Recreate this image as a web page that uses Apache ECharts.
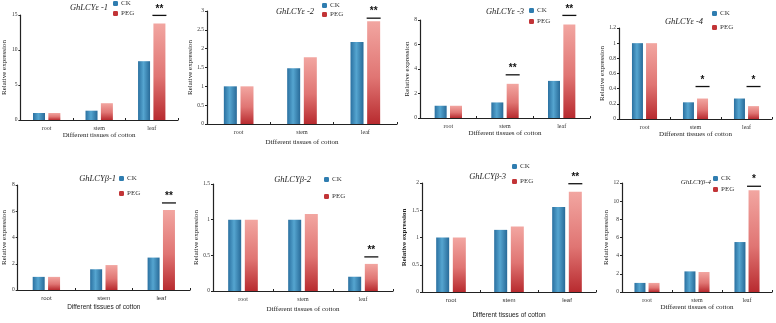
<!DOCTYPE html>
<html>
<head>
<meta charset="utf-8">
<script src="https://cdn.jsdelivr.net/npm/echarts@6/dist/echarts.min.js"></script>
<style>html,body{margin:0;padding:0;background:#fff}#c{width:776px;height:323px}</style>
</head>
<body>
<div id="c"></div>
<script>
const categories = ['root', 'stem', 'leaf'];
const titles = ['GhLCYε -1', 'GhLCYε -2', 'GhLCYε -3', 'GhLCYε -4', 'GhLCYβ-1', 'GhLCYβ-2', 'GhLCYβ-3', 'GhLCYβ-4'];
const ck1 = [1, 1.33, 8.4];   const peg1 = [1, 2.4, 13.8];  const sig1 = ['', '', '**'];
const ck2 = [1, 1.48, 2.18];  const peg2 = [1, 1.77, 2.73]; const sig2 = ['', '', '**'];
const ck3 = [1, 1.27, 3.03];  const peg3 = [1, 2.79, 7.64]; const sig3 = ['', '**', '**'];
const ck4 = [1, 0.22, 0.27];  const peg4 = [1, 0.27, 0.17]; const sig4 = ['', '*', '*'];
const ck5 = [1, 1.58, 2.47];  const peg5 = [1, 1.9, 6.1];   const sig5 = ['', '', '**'];
const ck6 = [1, 1, 0.2];      const peg6 = [1, 1.08, 0.38]; const sig6 = ['', '', '**'];
const ck7 = [1, 1.14, 1.56];  const peg7 = [1, 1.2, 1.84];  const sig7 = ['', '', '**'];
const ck8 = [1, 2.27, 5.5];   const peg8 = [1, 2.2, 11.2];  const sig8 = ['', '', '*'];
const yMax = [15, 3, 8, 1.2, 8, 1.5, 2, 12];
const yStep = [5, 0.5, 2, 0.2, 2, 0.5, 0.5, 2];

const CK = [ck1, ck2, ck3, ck4, ck5, ck6, ck7, ck8];
const PEG = [peg1, peg2, peg3, peg4, peg5, peg6, peg7, peg8];
const SIG = [sig1, sig2, sig3, sig4, sig5, sig6, sig7, sig8];

// layout (styles/positions only); t = [right edge distance, top, fontSize]
const L = [
  {g:[15,15,163,105],   bw:12, t:[668,3,8.5],   lg:[113,0,3],   xg:12, yg:7,  so:8,  xf:'serif'},
  {g:[207,11,190,113],  bw:13, t:[462,7,8.5],   lg:[322,2,2],   xg:15, yg:12, so:3,  xf:'serif'},
  {g:[420,20,170,98],   bw:12, t:[252,7,8.5],   lg:[529,7,4],   xg:10, yg:5,  so:9,  xf:'serif'},
  {g:[619,28,153,91],   bw:11, t:[73,17,8.5],   lg:[712,10,7],  xg:9,  yg:7,  so:12, xf:'serif'},
  {g:[13,185,177,105],  bw:12, t:[660,174,8.5], lg:[119,175,8], xg:14, yg:6,  so:7,  xf:'sans-serif'},
  {g:[213,184,180,107], bw:13, t:[465,175,8.5], lg:[324,176,10],xg:15, yg:10, so:7,  xf:'serif'},
  {g:[422,183,174,109], bw:13, t:[270,172,8.5], lg:[512,163,8], xg:20, yg:14, so:8,  xf:'sans-serif'},
  {g:[622,183,150,109], bw:11, t:[65,179,7],    lg:[713,175,4], xg:10, yg:9,  so:4,  xf:'serif'}
];

const ckColor = new echarts.graphic.LinearGradient(0, 0, 1, 0, [
  {offset: 0, color: '#2a70a0'}, {offset: 0.45, color: '#55a5d0'}, {offset: 1, color: '#286a98'}]);
const pegColor = new echarts.graphic.LinearGradient(0, 0, 0, 1, [
  {offset: 0, color: '#f2a6a1'}, {offset: 0.55, color: '#e07573'}, {offset: 1, color: '#b82b2f'}]);

const grid = [], xAxis = [], yAxis = [], series = [], title = [], legend = [];
L.forEach((p, k) => {
  grid.push({left: p.g[0], top: p.g[1], width: p.g[2], height: p.g[3], containLabel: false});
  title.push({text: titles[k], right: p.t[0], top: p.t[1], padding: 0,
    textStyle: {fontFamily: 'Liberation Serif', fontStyle: 'italic', fontWeight: 'normal', fontSize: p.t[2], color: '#222'}});
  legend.push({left: p.lg[0], top: p.lg[1], padding: 0, orient: 'vertical', itemWidth: 5, itemHeight: 5, itemGap: p.lg[2],
    textStyle: {fontFamily: 'Liberation Serif', fontSize: 7, color: '#333', padding: [0, 0, 0, -2]},
    data: [{name: 'CK', itemStyle: {color: '#2f7db0'}}, {name: 'PEG', itemStyle: {color: '#c23437'}}]});
  const xfam = p.xf === 'serif' ? 'Liberation Serif' : 'Liberation Sans';
  xAxis.push({type: 'category', gridIndex: k, data: categories,
    name: 'Different tissues of cotton', nameLocation: 'middle', nameGap: p.xg,
    nameTextStyle: {fontFamily: xfam, fontSize: p.xf === 'serif' ? 7 : 6.5, color: '#222'},
    axisLine: {lineStyle: {color: '#222', width: 1.2}},
    axisTick: {show: true, inside: true, length: 2, lineStyle: {color: '#222'}},
    axisLabel: {fontFamily: xfam, fontSize: 6, color: '#333', margin: 5}});
  yAxis.push({type: 'value', gridIndex: k, min: 0, max: yMax[k], interval: yStep[k],
    name: 'Relative expression', nameLocation: 'middle', nameGap: p.yg,
    nameTextStyle: {fontFamily: 'Liberation Serif', fontSize: 7, color: '#222', fontWeight: k === 6 ? 'bold' : 'normal'},
    axisLine: {show: true, lineStyle: {color: '#222', width: 1.2}},
    axisTick: {show: true, length: 2, lineStyle: {color: '#222'}},
    splitLine: {show: false},
    axisLabel: {fontFamily: 'Liberation Serif', fontSize: 5.5, color: '#333', margin: 3}});
  const marks = [];
  SIG[k].forEach((s, i) => {
    if (s) marks.push({coord: [categories[i], Math.max(CK[k][i], PEG[k][i])], value: s});
  });
  series.push({type: 'bar', name: 'CK', xAxisIndex: k, yAxisIndex: k, data: CK[k],
    barWidth: p.bw, barGap: '28%', itemStyle: {color: ckColor}});
  series.push({type: 'bar', name: 'PEG', xAxisIndex: k, yAxisIndex: k, data: PEG[k],
    barWidth: p.bw, barGap: '28%', itemStyle: {color: pegColor},
    markPoint: {symbol: 'rect', symbolSize: [14, 1.3], symbolOffset: [0, -p.so],
      itemStyle: {color: '#111'},
      label: {show: true, position: 'top', distance: 1, formatter: d => d.value,
        color: '#111', fontSize: 10, fontWeight: 'bold', fontFamily: 'Liberation Sans'},
      data: marks}});
});

const chart = echarts.init(document.getElementById('c'));
chart.setOption({animation: false, backgroundColor: '#fff', title, legend, grid, xAxis, yAxis, series});
</script>
</body>
</html>
